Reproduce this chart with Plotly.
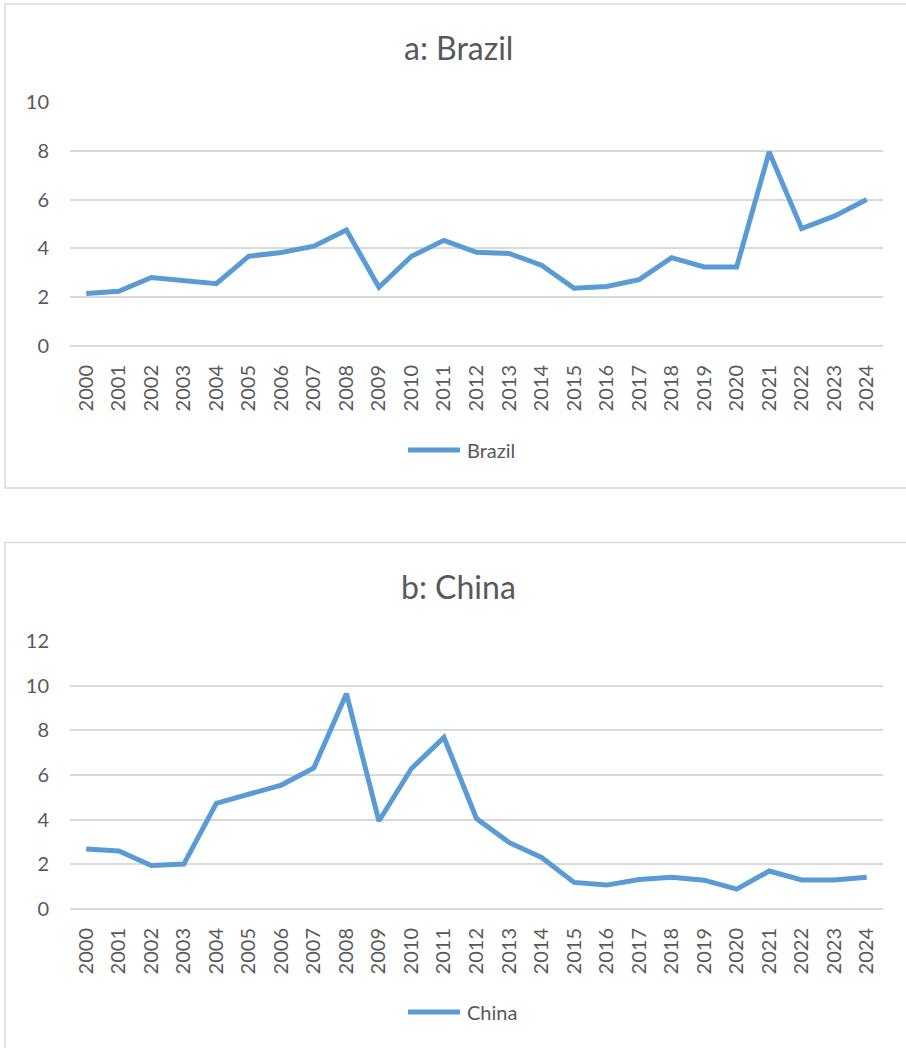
import plotly.graph_objects as go

years = [str(y) for y in range(2000, 2025)]
brazil = [2.15, 2.24, 2.81, 2.69, 2.55, 3.68, 3.83, 4.09, 4.75, 2.41, 3.68, 4.33, 3.84,
          3.79, 3.31, 2.37, 2.44, 2.72, 3.62, 3.24, 3.24, 7.95, 4.81, 5.32, 6.0]
china = [2.69, 2.60, 1.95, 2.01, 4.73, 5.15, 5.55, 6.32, 9.64, 3.94, 6.29, 7.68, 4.05,
         2.98, 2.31, 1.19, 1.07, 1.32, 1.42, 1.29, 0.89, 1.70, 1.30, 1.30, 1.42]
titles = ["a: Brazil", "b: China"]
names = ["Brazil", "China"]
y_max = [10, 12]

W, H = 906, 1048
BLUE = "#5B9BD5"
GRID = "#D9D9D9"
TXT = "#595959"
FONT = "Lato"

def px(x):
    return x / W

def py(y):
    return 1 - y / H

fig = go.Figure()
fig.add_trace(go.Scatter(x=years, y=brazil, mode="lines", name=names[0],
                         line=dict(color=BLUE, width=5), xaxis="x", yaxis="y",
                         showlegend=False))
fig.add_trace(go.Scatter(x=years, y=china, mode="lines", name=names[1],
                         line=dict(color=BLUE, width=5), xaxis="x2", yaxis="y2",
                         showlegend=False))

xdom = [px(70), px(883)]
common_x = dict(type="category", range=[-0.5, 24.5], showgrid=False, showline=False,
                zeroline=False, ticks="", tickangle=-90, automargin=False,
                tickfont=dict(family=FONT, size=20, color=TXT), ticklabelstandoff=14,
                fixedrange=True)
common_y = dict(showgrid=True, gridcolor=GRID, gridwidth=1.5, zeroline=True,
                zerolinecolor=GRID, zerolinewidth=1.5, showline=False, ticks="",
                automargin=False,
                tickfont=dict(family=FONT, size=20, color=TXT), dtick=2,
                ticklabelstandoff=20, fixedrange=True)

fig.update_layout(
    width=W, height=H, autosize=False,
    margin=dict(l=0, r=0, t=0, b=0, pad=0, autoexpand=False),
    paper_bgcolor="white", plot_bgcolor="white",
    xaxis=dict(domain=xdom, anchor="y", **common_x),
    yaxis=dict(domain=[py(346), py(102)], range=[0, y_max[0]], anchor="x", **common_y),
    xaxis2=dict(domain=xdom, anchor="y2", **common_x),
    yaxis2=dict(domain=[py(909), py(641)], range=[0, y_max[1]], anchor="x2", **common_y),
    showlegend=False,
)

# chart area borders
for top, bot in [(4, 488), (542.5, 1060)]:
    fig.add_shape(type="rect", xref="paper", yref="paper",
                  x0=px(5), x1=px(915), y0=py(bot), y1=py(top),
                  line=dict(color=GRID, width=1.5), fillcolor="rgba(0,0,0,0)", layer="below")

# titles
for t, yc in zip(titles, [47, 586]):
    fig.add_annotation(text=t, xref="paper", yref="paper", x=px(458.7), y=py(yc),
                       xanchor="center", yanchor="middle", showarrow=False,
                       font=dict(family=FONT, size=32, color=TXT))

# legends
for n, yc in zip(names, [450, 1012]):
    fig.add_shape(type="line", xref="paper", yref="paper", x0=px(408), x1=px(460),
                  y0=py(yc), y1=py(yc), line=dict(color=BLUE, width=5))
    fig.add_annotation(text=n, xref="paper", yref="paper", x=px(465), y=py(yc),
                       xanchor="left", yanchor="middle", showarrow=False,
                       font=dict(family=FONT, size=20, color=TXT))

fig.write_html("out.html")
